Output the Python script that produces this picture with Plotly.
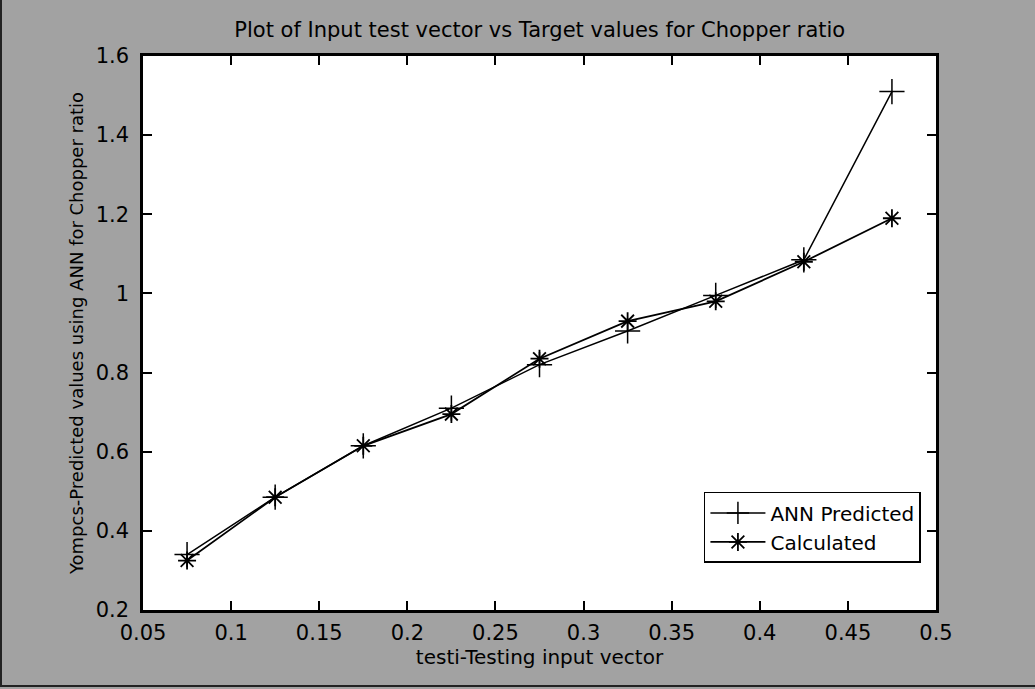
import plotly.graph_objects as go

# Test inputs and the two chopper-ratio series
x_input = [0.075, 0.125, 0.175, 0.225, 0.275, 0.325, 0.375, 0.425, 0.475]
ann_predicted = [0.34, 0.485, 0.615, 0.71, 0.82, 0.905, 0.995, 1.085, 1.51]
calculated = [0.325, 0.485, 0.615, 0.695, 0.835, 0.93, 0.98, 1.08, 1.19]

x_ticks = [0.05, 0.1, 0.15, 0.2, 0.25, 0.3, 0.35, 0.4, 0.45, 0.5]
y_ticks = [0.2, 0.4, 0.6, 0.8, 1, 1.2, 1.4, 1.6]

FONT = "DejaVu Sans, Liberation Sans, Arial"
BG = "#a2a2a2"

fig = go.Figure()
fig.add_trace(go.Scatter(
    x=x_input, y=ann_predicted, mode="lines+markers", name="ANN Predicted",
    line=dict(color="black", width=1.5),
    marker=dict(symbol="cross-thin-open", size=18, color="black",
                line=dict(color="black", width=1.5)),
))
fig.add_trace(go.Scatter(
    x=x_input, y=calculated, mode="lines+markers", name="Calculated",
    line=dict(color="black", width=1.8),
    marker=dict(symbol="asterisk-open", size=15, color="black",
                line=dict(color="black", width=1.8)),
))

axis_common = dict(
    showgrid=False, zeroline=False, showline=True, linecolor="black",
    linewidth=2.5, mirror="allticks", ticks="inside", ticklen=9,
    tickwidth=1.8, tickcolor="black",
    tickfont=dict(family=FONT, size=21, color="black"),
)

fig.update_layout(
    width=1035, height=689,
    margin=dict(l=143, r=99, t=56, b=79),
    paper_bgcolor=BG, plot_bgcolor="white",
    showlegend=True,
    title=dict(text="Plot of Input test vector vs Target values for Chopper ratio",
               x=0.5215, xanchor="center", y=0.957, yanchor="middle",
               font=dict(family=FONT, size=21, color="black")),
    xaxis=dict(range=[0.05, 0.5], tickvals=x_ticks, ticklabelstandoff=2,
               title=dict(text="testi-Testing input vector", standoff=4,
                          font=dict(family=FONT, size=20, color="black")),
               **axis_common),
    yaxis=dict(range=[0.2, 1.6], tickvals=y_ticks, ticklabelstandoff=7,
               title=dict(text="Yompcs-Predicted values using ANN for Chopper ratio",
                          standoff=8,
                          font=dict(family=FONT, size=18, color="black")),
               **axis_common),
    legend=dict(x=0.981, y=0.085, xanchor="right", yanchor="bottom",
                bgcolor="white", bordercolor="black", borderwidth=1.5,
                font=dict(family=FONT, size=20, color="black"),
                itemwidth=55, tracegroupgap=0),
)

# dark edges of the figure window (left and bottom)
fig.add_shape(type="line", xref="paper", yref="paper",
              x0=-142 / 793, x1=-142 / 793, y0=-77 / 554, y1=1 + 56 / 554,
              line=dict(color="#222222", width=2))
fig.add_shape(type="line", xref="paper", yref="paper",
              x0=-143 / 793, x1=1 + 99 / 793, y0=-76 / 554, y1=-76 / 554,
              line=dict(color="#222222", width=2))

fig.write_html("out.html")
